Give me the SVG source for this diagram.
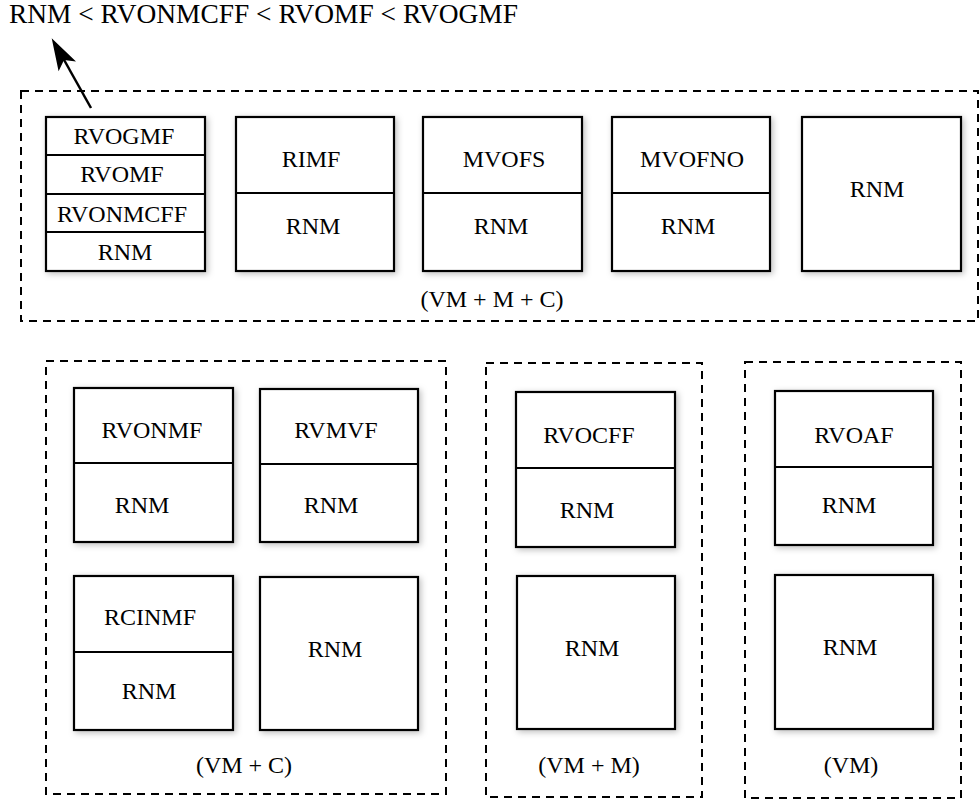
<svg xmlns="http://www.w3.org/2000/svg" width="980" height="800" viewBox="0 0 980 800">
  <defs>
    <filter id="sh" x="-10%" y="-10%" width="125%" height="125%">
      <feDropShadow dx="2" dy="2" stdDeviation="3" flood-color="#000" flood-opacity="0.25"/>
    </filter>
  </defs>
  <style>
    text { font-family: "Liberation Serif", "Times New Roman", serif; font-size: 24px; fill: #000; text-anchor: middle; }
    .box { fill: #fff; stroke: #000; stroke-width: 2.2; filter: url(#sh); }
    .div { stroke: #000; stroke-width: 2; fill: none; }
    .grp { fill: none; stroke: #000; stroke-width: 2; stroke-dasharray: 8 6; }
    .title { text-anchor: start; font-size: 26.5px; }
  </style>
  <rect width="980" height="800" fill="#fff"/>

  <text class="title" x="9" y="23" textLength="509" lengthAdjust="spacingAndGlyphs">RNM &lt; RVONMCFF &lt; RVOMF &lt; RVOGMF</text>

  <!-- Group containers -->
  <g id="group-vm-m-c">
    <rect class="grp" x="21" y="91" width="957" height="230"/>
    <text x="492" y="307">(VM + M + C)</text>
  </g>
  <g id="group-vm-c">
    <rect class="grp" x="46" y="361" width="400" height="433"/>
    <text x="244" y="773">(VM + C)</text>
  </g>
  <g id="group-vm-m">
    <rect class="grp" x="486" y="363" width="216" height="434"/>
    <text x="589" y="773">(VM + M)</text>
  </g>
  <g id="group-vm">
    <rect class="grp" x="745" y="362" width="216" height="436"/>
    <text x="851" y="773">(VM)</text>
  </g>

  <!-- Top row nodes -->
  <g id="node-stack">
    <rect class="box" x="46" y="117" width="159" height="154"/>
    <line class="div" x1="46" y1="155" x2="205" y2="155"/>
    <line class="div" x1="46" y1="194" x2="205" y2="194"/>
    <line class="div" x1="46" y1="232" x2="205" y2="232"/>
    <text x="124" y="144">RVOGMF</text>
    <text x="122" y="182">RVOMF</text>
    <text x="122" y="222">RVONMCFF</text>
    <text x="125" y="260">RNM</text>
  </g>
  <g id="node-rimf">
    <rect class="box" x="236" y="117" width="158" height="154"/>
    <line class="div" x1="236" y1="193" x2="394" y2="193"/>
    <text x="311" y="167">RIMF</text>
    <text x="313" y="234">RNM</text>
  </g>
  <g id="node-mvofs">
    <rect class="box" x="423" y="117" width="159" height="154"/>
    <line class="div" x1="423" y1="193" x2="582" y2="193"/>
    <text x="504" y="167">MVOFS</text>
    <text x="501" y="234">RNM</text>
  </g>
  <g id="node-mvofno">
    <rect class="box" x="612" y="117" width="158" height="154"/>
    <line class="div" x1="612" y1="193" x2="770" y2="193"/>
    <text x="692" y="167">MVOFNO</text>
    <text x="688" y="234">RNM</text>
  </g>
  <g id="node-rnm-top">
    <rect class="box" x="802" y="117" width="159" height="154"/>
    <text x="877" y="197">RNM</text>
  </g>

  <!-- (VM + C) nodes -->
  <g id="node-rvonmf">
    <rect class="box" x="74" y="388" width="159" height="154"/>
    <line class="div" x1="74" y1="463" x2="233" y2="463"/>
    <text x="152" y="438">RVONMF</text>
    <text x="142" y="513">RNM</text>
  </g>
  <g id="node-rvmvf">
    <rect class="box" x="260" y="389" width="158" height="153"/>
    <line class="div" x1="260" y1="464" x2="418" y2="464"/>
    <text x="336" y="438">RVMVF</text>
    <text x="331" y="513">RNM</text>
  </g>
  <g id="node-rcinmf">
    <rect class="box" x="74" y="576" width="159" height="154"/>
    <line class="div" x1="74" y1="652" x2="233" y2="652"/>
    <text x="150" y="625">RCINMF</text>
    <text x="149" y="699">RNM</text>
  </g>
  <g id="node-rnm-vmc">
    <rect class="box" x="260" y="577" width="158" height="153"/>
    <text x="335" y="657">RNM</text>
  </g>

  <!-- (VM + M) nodes -->
  <g id="node-rvocff">
    <rect class="box" x="516" y="392" width="159" height="155"/>
    <line class="div" x1="516" y1="468" x2="675" y2="468"/>
    <text x="589" y="443">RVOCFF</text>
    <text x="587" y="518">RNM</text>
  </g>
  <g id="node-rnm-vmm">
    <rect class="box" x="517" y="576" width="158" height="153"/>
    <text x="592" y="656">RNM</text>
  </g>

  <!-- (VM) nodes -->
  <g id="node-rvoaf">
    <rect class="box" x="775" y="391" width="158" height="154"/>
    <line class="div" x1="775" y1="467" x2="933" y2="467"/>
    <text x="854" y="443">RVOAF</text>
    <text x="849" y="513">RNM</text>
  </g>
  <g id="node-rnm-vm">
    <rect class="box" x="775" y="575" width="158" height="154"/>
    <text x="850" y="655">RNM</text>
  </g>

  <!-- Connectors -->
  <g id="connectors">
    <line x1="91" y1="108" x2="63" y2="58" stroke="#000" stroke-width="2.5"/>
    <polygon points="51.7,38.3 76,61.4 64,60 58.6,71.2" fill="#000"/>
  </g>
</svg>
